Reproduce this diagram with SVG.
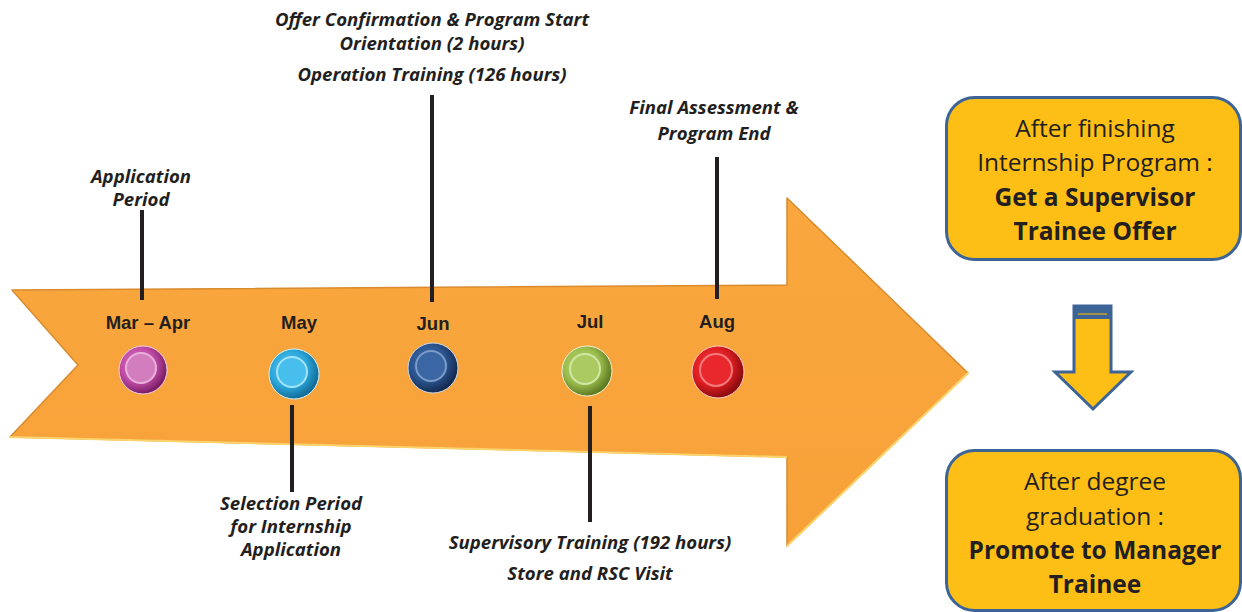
<svg xmlns="http://www.w3.org/2000/svg" width="1242" height="612" viewBox="0 0 1242 612">
<style>
.it{font-family:"Open Sans","Liberation Sans",sans-serif;font-style:italic;font-weight:bold;font-size:18.6px;fill:#231F20;text-anchor:middle}
.mo{font-family:"Liberation Sans",Arial,sans-serif;font-weight:bold;font-size:18.5px;fill:#231F20;text-anchor:middle}
.bx{font-family:"Open Sans","Liberation Sans",sans-serif;font-size:24.5px;fill:#231F20;text-anchor:middle}
.bb{font-weight:bold}
.ln{stroke:#231F20;stroke-width:4;fill:none}
.box{fill:#FDBE16;stroke:#3C6496;stroke-width:3}
</style>
<defs>
<linearGradient id="ag" x1="0" y1="0" x2="0" y2="1">
<stop offset="0" stop-color="#F9A73E"/>
<stop offset="1" stop-color="#F7A139"/>
</linearGradient>
<radialGradient id="gP" cx="0.4" cy="0.4" r="0.6"><stop offset="0" stop-color="#D77FC2"/><stop offset="0.6" stop-color="#C04CA6"/><stop offset="1" stop-color="#7A1E66"/></radialGradient>
<radialGradient id="gB" cx="0.4" cy="0.4" r="0.6"><stop offset="0" stop-color="#5FC8EE"/><stop offset="0.6" stop-color="#2CA8DC"/><stop offset="1" stop-color="#136C98"/></radialGradient>
<radialGradient id="gN" cx="0.4" cy="0.4" r="0.6"><stop offset="0" stop-color="#4A78B4"/><stop offset="0.6" stop-color="#2B5490"/><stop offset="1" stop-color="#142C50"/></radialGradient>
<radialGradient id="gG" cx="0.4" cy="0.4" r="0.6"><stop offset="0" stop-color="#B9D774"/><stop offset="0.6" stop-color="#9BBE4E"/><stop offset="1" stop-color="#5E7A22"/></radialGradient>
<radialGradient id="gR" cx="0.4" cy="0.4" r="0.6"><stop offset="0" stop-color="#F04040"/><stop offset="0.6" stop-color="#E01E22"/><stop offset="1" stop-color="#8A0C10"/></radialGradient>
</defs>

<g id="timeline-arrow">
<path d="M12,290 L787,285 L787,198 L968,373 L787,546 L787,457 L10,437 L78,365 Z" fill="url(#ag)" stroke="#D98B2E" stroke-width="1.5" stroke-linejoin="round"/>
<path d="M10,437 L787,457 M787,546 L968,373" stroke="#FBD36A" stroke-width="2" fill="none"/>
</g>

<g id="connectors">
<line class="ln" x1="142" y1="210" x2="142" y2="300"/>
<line class="ln" x1="292" y1="405" x2="292" y2="492"/>
<line class="ln" x1="432" y1="95" x2="432" y2="302"/>
<line class="ln" x1="590" y1="406" x2="590" y2="522"/>
<line class="ln" x1="717" y1="157" x2="717" y2="299"/>
</g>

<g id="node-mar-apr">
<text class="mo" x="148" y="329">Mar – Apr</text>
<circle cx="143" cy="370" r="24" fill="url(#gP)" stroke="#F2D0E8" stroke-width="1"/>
<circle cx="141" cy="368" r="15" fill="#D27DBE" stroke="#E9B0DA" stroke-width="2"/>
<text class="it" x="141" y="183">Application</text>
<text class="it" x="141" y="206">Period</text>
</g>

<g id="node-may">
<text class="mo" x="299" y="329">May</text>
<circle cx="294" cy="374" r="25" fill="url(#gB)" stroke="#D0F0FA" stroke-width="1"/>
<circle cx="292" cy="372" r="15" fill="#47BEEB" stroke="#A6E2F7" stroke-width="2"/>
<text class="it" x="291" y="510">Selection Period</text>
<text class="it" x="291" y="533">for Internship</text>
<text class="it" x="291" y="556">Application</text>
</g>

<g id="node-jun">
<text class="mo" x="433" y="330">Jun</text>
<circle cx="433" cy="368" r="25" fill="url(#gN)" stroke="#C8D6EA" stroke-width="1"/>
<circle cx="431" cy="366" r="15" fill="#3A67A4" stroke="#7C9CC8" stroke-width="2"/>
<text class="it" x="432" y="26">Offer Confirmation &amp; Program Start</text>
<text class="it" x="432" y="50">Orientation (2 hours)</text>
<text class="it" x="432" y="81">Operation Training (126 hours)</text>
</g>

<g id="node-jul">
<text class="mo" x="590" y="328">Jul</text>
<circle cx="587" cy="371" r="25" fill="url(#gG)" stroke="#EAF2D8" stroke-width="1"/>
<circle cx="585" cy="369" r="15" fill="#ABCB62" stroke="#D2E6A6" stroke-width="2"/>
<text class="it" x="590" y="549">Supervisory Training (192 hours)</text>
<text class="it" x="590" y="580">Store and RSC Visit</text>
</g>

<g id="node-aug">
<text class="mo" x="717" y="328">Aug</text>
<circle cx="718" cy="372" r="26" fill="url(#gR)" stroke="#F8C8C8" stroke-width="1"/>
<circle cx="716" cy="370" r="16" fill="#E8282C" stroke="#F27A7C" stroke-width="2"/>
<text class="it" x="714" y="114">Final Assessment &amp;</text>
<text class="it" x="714" y="140">Program End</text>
</g>

<g id="box-supervisor">
<rect class="box" x="946.5" y="97.5" width="294" height="162" rx="28"/>
<text class="bx" x="1095" y="137">After finishing</text>
<text class="bx" x="1095" y="171">Internship Program :</text>
<text class="bx bb" x="1095" y="206">Get a Supervisor</text>
<text class="bx bb" x="1095" y="240">Trainee Offer</text>
</g>

<g id="down-arrow">
<path class="box" d="M1074,306 L1111,306 L1111,372 L1131,372 L1093,409 L1055,372 L1074,372 Z"/>
<rect x="1074" y="306" width="37" height="13" fill="#3C6496"/>
<line x1="1078" y1="314" x2="1107" y2="314" stroke="#C9A030" stroke-width="1.5"/>
</g>

<g id="box-manager">
<rect class="box" x="946.5" y="450.5" width="294" height="160" rx="28"/>
<text class="bx" x="1095" y="490">After degree</text>
<text class="bx" x="1095" y="525">graduation :</text>
<text class="bx bb" x="1095" y="559">Promote to Manager</text>
<text class="bx bb" x="1095" y="593">Trainee</text>
</g>
</svg>
